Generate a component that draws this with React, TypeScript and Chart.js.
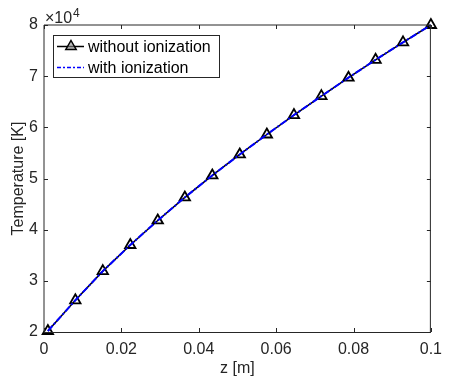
import React, { useEffect, useRef } from 'react';
import { Chart, registerables } from 'chart.js';

Chart.register(...registerables);

// z positions [m]
const zValues = [0.001, 0.0081, 0.0152, 0.0223, 0.0294, 0.0364, 0.0435, 0.0506, 0.0576, 0.0646, 0.0717, 0.0787, 0.0857, 0.0928, 0.1];
// Temperature [K]
const tempWithoutIon = [20200, 26200, 31900, 37000, 41800, 46300, 50600, 54700, 58600, 62400, 66100, 69700, 73200, 76600, 80000];
const tempWithIon = [20200, 26200, 31900, 37000, 41800, 46300, 50600, 54700, 58600, 62400, 66100, 69700, 73200, 76600, 80000];

const xTickValues = [0, 0.02, 0.04, 0.06, 0.08, 0.1];
const xTickLabels = ['0', '0.02', '0.04', '0.06', '0.08', '0.1'];
const yTickValues = [20000, 30000, 40000, 50000, 60000, 70000, 80000];
const yTickLabels = ['2', '3', '4', '5', '6', '7', '8'];

const seriesNames = ['without ionization', 'with ionization'];
const FONT = 'Liberation Sans, Arial, Helvetica, sans-serif';
const AXIS_COLOR = '#262626';
const BLUE_DASH = [7, 2, 2, 2];
const LEGEND_DASH = [4, 2, 2, 2];
const FS = 16;

const matlabPlugin = {
  id: 'matlabAxes',
  afterDatasetsDraw(chart: any) {
    const { ctx, chartArea, scales } = chart;
    const { left, right, top, bottom } = chartArea;
    const x = scales.x;
    const y = scales.y;
    ctx.save();
    ctx.lineWidth = 1;
    ctx.strokeStyle = AXIS_COLOR;
    const tl = 4;
    ctx.beginPath();
    xTickValues.forEach((v) => {
      const px = Math.round(x.getPixelForValue(v)) + 0.5;
      ctx.moveTo(px, bottom);
      ctx.lineTo(px, bottom - tl);
      ctx.moveTo(px, top);
      ctx.lineTo(px, top + tl);
    });
    yTickValues.forEach((v) => {
      const py = Math.round(y.getPixelForValue(v)) + 0.5;
      ctx.moveTo(left, py);
      ctx.lineTo(left + tl, py);
      ctx.moveTo(right, py);
      ctx.lineTo(right - tl, py);
    });
    ctx.stroke();
    // box
    ctx.beginPath();
    ctx.moveTo(left, top);
    ctx.lineTo(right - 0.5, top);
    ctx.moveTo(left, top);
    ctx.lineTo(left, bottom + 0.5);
    ctx.stroke();
    ctx.beginPath();
    ctx.moveTo(left, bottom + 0.5);
    ctx.lineTo(right - 0.5, bottom + 0.5);
    ctx.lineTo(right - 0.5, top);
    ctx.stroke();

    // exponent label
    ctx.fillStyle = AXIS_COLOR;
    ctx.textBaseline = 'alphabetic';
    ctx.textAlign = 'left';
    ctx.font = `${FS}px ${FONT}`;
    ctx.fillText('\u00d710', 45, 23);
    ctx.font = `12px ${FONT}`;
    ctx.fillText('4', 73, 17);

    // legend
    const lx = 53.5, ly = 35.5, lw = 166, lh = 42;
    ctx.fillStyle = '#ffffff';
    ctx.fillRect(lx, ly, lw, lh);
    ctx.strokeStyle = AXIS_COLOR;
    ctx.lineWidth = 1;
    ctx.strokeRect(lx, ly, lw, lh);

    const row1 = 46.5;
    const row2 = 67.5;
    ctx.strokeStyle = '#000000';
    ctx.lineWidth = 1.5;
    ctx.beginPath();
    ctx.moveTo(57, row1);
    ctx.lineTo(84, row1);
    ctx.stroke();
    const tr = 6;
    const cx = 71, cy = row1;
    ctx.beginPath();
    ctx.moveTo(cx, cy - tr);
    ctx.lineTo(cx + tr * 0.866, cy + tr * 0.5);
    ctx.lineTo(cx - tr * 0.866, cy + tr * 0.5);
    ctx.closePath();
    ctx.fillStyle = 'rgba(140,140,140,0.6)';
    ctx.fill();
    ctx.stroke();
    ctx.strokeStyle = '#0000ff';
    ctx.lineWidth = 1.5;
    ctx.setLineDash(LEGEND_DASH);
    ctx.beginPath();
    ctx.moveTo(57, row2);
    ctx.lineTo(84, row2);
    ctx.stroke();
    ctx.setLineDash([]);

    ctx.fillStyle = '#000000';
    ctx.font = `${FS}px ${FONT}`;
    ctx.textBaseline = 'middle';
    ctx.fillText(seriesNames[0], 88, row1 + 1);
    ctx.fillText(seriesNames[1], 88, row2 + 1);
    ctx.restore();
  },
};

export default function App() {
  const canvasRef = useRef<HTMLCanvasElement | null>(null);

  useEffect(() => {
    const canvas = canvasRef.current;
    if (!canvas) return;
    const chart = new Chart(canvas, {
      type: 'line',
      data: {
        datasets: [
          {
            label: seriesNames[1],
            data: zValues.map((z, i) => ({ x: z, y: tempWithIon[i] })),
            borderColor: '#0000ff',
            backgroundColor: '#0000ff',
            borderWidth: 2,
            borderDash: BLUE_DASH,
            pointRadius: 0,
            fill: false,
            tension: 0,
            clip: false,
          },
          {
            label: seriesNames[0],
            data: zValues.map((z, i) => ({ x: z, y: tempWithoutIon[i] })),
            borderColor: '#000000',
            backgroundColor: 'rgba(0,0,0,0)',
            borderWidth: 1.5,
            pointStyle: 'triangle',
            pointRadius: 6,
            pointBorderWidth: 1.8,
            pointBorderColor: '#000000',
            pointBackgroundColor: 'rgba(0,0,0,0)',
            fill: false,
            tension: 0,
            clip: false,
          },
        ],
      },
      options: {
        animation: false,
        responsive: false,
        maintainAspectRatio: false,
        devicePixelRatio: 1,
        layout: { padding: { top: 25, right: 11, left: 0, bottom: 0 } },
        plugins: {
          legend: { display: false },
          tooltip: { enabled: false },
        },
        scales: {
          x: {
            type: 'linear',
            min: 0,
            max: 0.1,
            grid: { display: false, drawTicks: false },
            border: { display: false },
            afterBuildTicks: (scale: any) => {
              scale.ticks = xTickValues.map((v) => ({ value: v }));
            },
            afterFit: (scale: any) => {
              scale.height = 51;
            },
            ticks: {
              padding: 8,
              color: AXIS_COLOR,
              font: { family: FONT, size: FS },
              maxRotation: 0,
              autoSkip: false,
              callback: (v: any) => {
                const i = xTickValues.findIndex((t) => Math.abs(t - Number(v)) < 1e-9);
                return i >= 0 ? xTickLabels[i] : '';
              },
            },
            title: {
              display: true,
              text: 'z [m]',
              color: AXIS_COLOR,
              font: { family: FONT, size: FS },
              padding: { top: 0, bottom: 5 },
            },
          },
          y: {
            type: 'linear',
            min: 20000,
            max: 80000,
            grid: { display: false, drawTicks: false },
            border: { display: false },
            afterBuildTicks: (scale: any) => {
              scale.ticks = yTickValues.map((v) => ({ value: v }));
            },
            afterFit: (scale: any) => {
              scale.width = 44;
            },
            ticks: {
              padding: 6,
              color: AXIS_COLOR,
              font: { family: FONT, size: FS },
              autoSkip: false,
              callback: (v: any) => {
                const i = yTickValues.indexOf(Number(v));
                return i >= 0 ? yTickLabels[i] : '';
              },
            },
            title: {
              display: true,
              text: 'Temperature [K]',
              color: AXIS_COLOR,
              font: { family: FONT, size: FS },
              padding: { top: 9, bottom: 0 },
            },
          },
        },
      },
      plugins: [matlabPlugin],
    });
    return () => chart.destroy();
  }, []);

  return (
    <div style={{ position: 'fixed', left: 0, top: 0, width: 450, height: 383, background: '#ffffff' }}>
      <canvas ref={canvasRef} width={450} height={383} style={{ width: 450, height: 383, display: 'block' }} />
    </div>
  );
}
